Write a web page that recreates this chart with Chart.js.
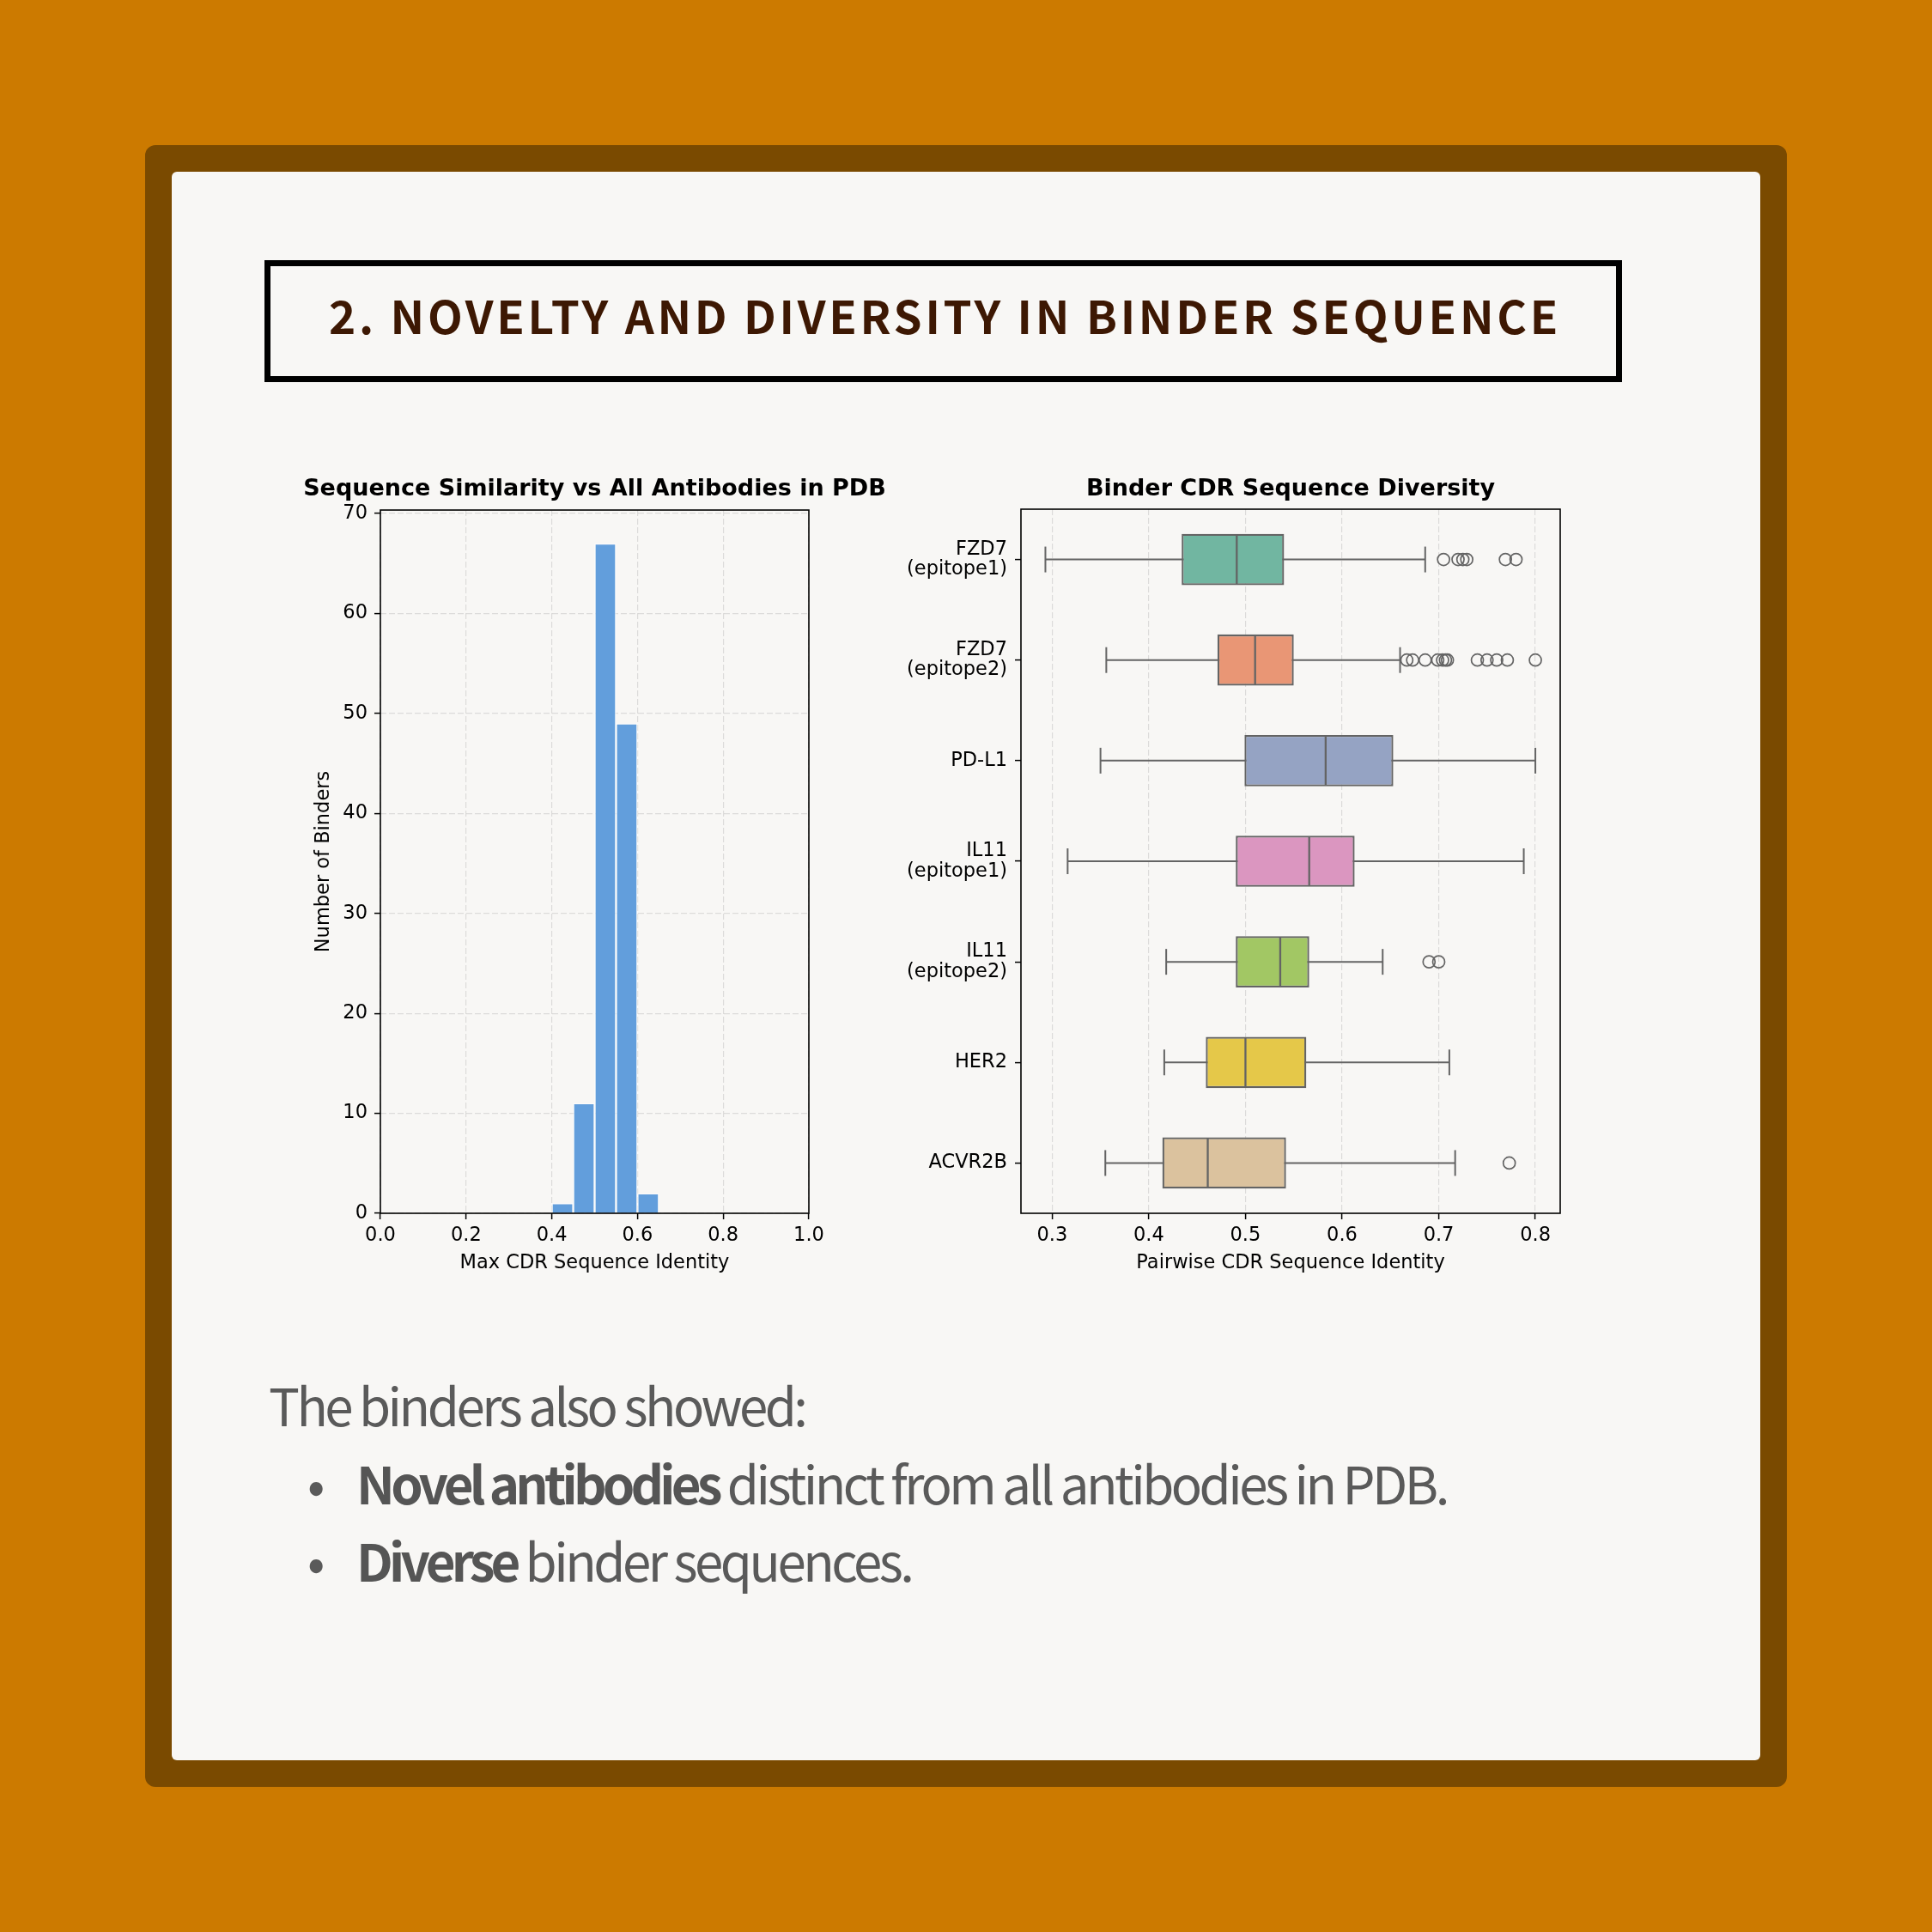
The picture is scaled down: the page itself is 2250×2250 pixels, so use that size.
<!DOCTYPE html>
<html>
<head>
<meta charset="utf-8">
<script src="https://cdn.jsdelivr.net/npm/chart.js@4.4.1/dist/chart.umd.min.js"></script>
<style>
html,body{margin:0;padding:0;background:#cc7a00;}
body{width:2250px;height:2250px;position:relative;overflow:hidden;}
#frame{position:absolute;left:169px;top:169px;width:1912px;height:1912px;background:#7a4a00;border-radius:12px;}
#panel{position:absolute;left:200px;top:200px;width:1850px;height:1850px;background:#f8f7f5;border-radius:6px;}
#titlebox{position:absolute;left:308px;top:303px;width:1581px;height:142px;box-sizing:border-box;border:7px solid #000;}
#title{position:absolute;left:310px;top:340px;width:1581px;text-align:center;font-family:"Noto Sans CJK KR","Noto Sans",sans-serif;font-weight:700;font-size:53px;line-height:1;letter-spacing:3.7px;color:#3d1803;white-space:nowrap;}
.wrap{position:absolute;}
.txt{position:absolute;font-family:"Noto Sans CJK KR","Noto Sans",sans-serif;font-size:60px;line-height:1;letter-spacing:-3.5px;color:#5a5a5a;white-space:nowrap;}
.txt b{font-weight:700;color:#555555;letter-spacing:-4.8px;}
</style>
</head>
<body>
<div id="frame"></div>
<div id="panel"></div>
<div id="titlebox"></div>
<div id="title">2. NOVELTY AND DIVERSITY IN BINDER SEQUENCE</div>

<div class="wrap" style="left:340px;top:540px;width:705px;height:960px;"><canvas id="hist"></canvas></div>
<div class="wrap" style="left:1040px;top:540px;width:820px;height:960px;"><canvas id="box"></canvas></div>

<div class="txt" style="left:313px;top:1605px;">The binders also showed:</div>
<div class="txt" style="left:358px;top:1696px;">•</div>
<div class="txt" style="left:415px;top:1696px;"><b>Novel antibodies</b> distinct from all antibodies in PDB.</div>
<div class="txt" style="left:358px;top:1786px;">•</div>
<div class="txt" style="left:415px;top:1786px;"><b>Diverse</b> binder sequences.</div>

<script>
// ---------- Data ----------
const histBinCenters = [0.425, 0.475, 0.525, 0.575, 0.625];
const histCounts = [1, 11, 67, 49, 2];
const histXTicks = [0.0, 0.2, 0.4, 0.6, 0.8, 1.0];

const boxCategories = ["FZD7\n(epitope1)", "FZD7\n(epitope2)", "PD-L1", "IL11\n(epitope1)", "IL11\n(epitope2)", "HER2", "ACVR2B"];
const whiskerLow  = [0.293, 0.356, 0.350, 0.316, 0.418, 0.416, 0.355];
const q1          = [0.434, 0.471, 0.499, 0.490, 0.490, 0.459, 0.414];
const median      = [0.491, 0.510, 0.583, 0.566, 0.536, 0.500, 0.461];
const q3          = [0.540, 0.550, 0.653, 0.613, 0.566, 0.563, 0.542];
const whiskerHigh = [0.686, 0.660, 0.800, 0.788, 0.642, 0.711, 0.717];
const outliers = [
  [0.705, 0.720, 0.725, 0.729, 0.769, 0.780],
  [0.667, 0.673, 0.686, 0.699, 0.704, 0.707, 0.709, 0.740, 0.750, 0.760, 0.771, 0.800],
  [],
  [],
  [0.690, 0.700],
  [],
  [0.773]
];
const boxColors = ['#71b6a1', '#e99675', '#95a3c3', '#db96c0', '#a2c764', '#e5c849', '#dbc29e'];

// ---------- Styles ----------
const FONT = "'DejaVu Sans', sans-serif";
const GRID = 'rgba(0,0,0,0.11)';
const EDGE = '#646464';
const TICK_SIZE = 22.5;
const LABEL_SIZE = 22.5;
const TITLE_SIZE = 27;

const framePlugin = {
  id: 'frame',
  afterDraw(chart) {
    const {ctx, chartArea: a} = chart;
    ctx.save();
    ctx.strokeStyle = '#000';
    ctx.lineWidth = 1.6;
    ctx.strokeRect(a.left, a.top, a.right - a.left, a.bottom - a.top);
    ctx.restore();
  }
};

Chart.defaults.font.family = FONT;
Chart.defaults.color = '#000';

function gridOpts(extra) {
  return Object.assign({color: GRID, lineWidth: 1.2, tickColor: '#000', tickWidth: 1.5, tickLength: 7,
                        tickBorderDash: [], borderDash: [7, 3], offset: false}, extra || {});
}
const borderOpts = {display: false, dash: [7, 3]};

// ---------- Histogram ----------
new Chart(document.getElementById('hist'), {
  type: 'bar',
  data: {
    datasets: [{
      data: histBinCenters.map((x, i) => ({x: x, y: histCounts[i]})),
      backgroundColor: '#629edc',
      borderColor: 'rgba(255,255,255,0.55)',
      borderWidth: 1.5,
      barPercentage: 1,
      categoryPercentage: 1
    }]
  },
  options: {
    responsive: true,
    maintainAspectRatio: false,
    animation: false,
    layout: {padding: 0},
    plugins: {
      legend: {display: false},
      tooltip: {enabled: false},
      title: {
        display: true, fullSize: true,
        text: 'Sequence Similarity vs All Antibodies in PDB',
        font: {family: FONT, size: TITLE_SIZE, weight: 'bold'},
        color: '#000',
        padding: {top: 13.8, bottom: 7.8}
      }
    },
    scales: {
      x: {
        type: 'linear', min: 0, max: 1, offset: false,
        grid: gridOpts(), border: borderOpts,
        afterFit: s => { s.height = 87; },
        ticks: {stepSize: 0.2, includeBounds: false, padding: 6, font: {size: TICK_SIZE}, color: '#000',
                callback: v => histXTicks.some(t => Math.abs(t - v) < 1e-9) ? v.toFixed(1) : ''},
        title: {display: true, text: 'Max CDR Sequence Identity', font: {size: LABEL_SIZE}, color: '#000', padding: {top: 0, bottom: 15}}
      },
      y: {
        type: 'linear', min: 0, max: 70.35,
        grid: gridOpts(), border: borderOpts,
        afterFit: s => { s.width = 103; },
        ticks: {stepSize: 10, includeBounds: false, padding: 8, font: {size: TICK_SIZE}, color: '#000'},
        title: {display: true, text: 'Number of Binders', font: {size: LABEL_SIZE}, color: '#000', padding: {top: 23.5, bottom: 0}}
      },
      yRight: {
        type: 'linear', position: 'right', display: true,
        grid: {display: false}, border: {display: false}, ticks: {display: false},
        afterFit: s => { s.width = 103; }
      }
    }
  },
  plugins: [framePlugin]
});

// ---------- Box plot ----------
const whiskerSets = boxCategories.map((c, i) => ({
  type: 'line',
  data: [{x: whiskerLow[i], y: c}, {x: whiskerHigh[i], y: c}],
  borderColor: EDGE, borderWidth: 2,
  pointStyle: 'line', pointRotation: 90, pointRadius: 15, pointHoverRadius: 15,
  pointBorderColor: EDGE, pointBorderWidth: 2, pointBackgroundColor: EDGE,
  fill: false, order: 3
}));
const outlierPoints = [];
boxCategories.forEach((c, i) => outliers[i].forEach(v => outlierPoints.push({x: v, y: c})));

new Chart(document.getElementById('box'), {
  type: 'bar',
  data: {
    labels: boxCategories,
    datasets: [
      {
        type: 'scatter',
        data: outlierPoints,
        pointStyle: 'circle', pointRadius: 7, pointHoverRadius: 7,
        backgroundColor: 'rgba(0,0,0,0)', borderColor: EDGE, borderWidth: 1.7,
        order: 0
      },
      {
        type: 'scatter',
        data: median.map((v, i) => ({x: v, y: boxCategories[i]})),
        pointStyle: 'line', pointRotation: 90, pointRadius: 29, pointHoverRadius: 29,
        backgroundColor: EDGE, borderColor: EDGE, borderWidth: 2.3,
        order: 0
      },
      {
        indexAxis: 'y',
        data: q1.map((v, i) => [v, q3[i]]),
        backgroundColor: boxColors, borderColor: EDGE,
        borderWidth: 2.3,
        borderSkipped: false, grouped: false,
        categoryPercentage: 1, barPercentage: 0.51, order: 1
      },
      ...whiskerSets
    ]
  },
  options: {
    indexAxis: 'y',
    responsive: true,
    maintainAspectRatio: false,
    animation: false,
    layout: {padding: {left: 0, right: 43, top: 0, bottom: 0}},
    plugins: {
      legend: {display: false},
      tooltip: {enabled: false},
      title: {
        display: true, fullSize: false,
        text: 'Binder CDR Sequence Diversity',
        font: {family: FONT, size: TITLE_SIZE, weight: 'bold'},
        color: '#000',
        padding: {top: 13.8, bottom: 6.8}
      }
    },
    scales: {
      x: {
        type: 'linear', min: 0.2677, max: 0.8257, offset: false, beginAtZero: false,
        grid: gridOpts(), border: borderOpts,
        afterFit: s => { s.height = 87; },
        ticks: {stepSize: 0.1, includeBounds: false, padding: 6, font: {size: TICK_SIZE}, color: '#000',
                callback: v => v.toFixed(1)},
        title: {display: true, text: 'Pairwise CDR Sequence Identity', font: {size: LABEL_SIZE}, color: '#000', padding: {top: 0, bottom: 15}}
      },
      y: {
        type: 'category', offset: true,
        grid: gridOpts({drawOnChartArea: false}), border: borderOpts,
        afterFit: s => { s.width = 149; },
        ticks: {
          padding: 9, font: {size: TICK_SIZE, lineHeight: 1.04}, color: '#000',
          callback: function(v) { return this.getLabelForValue(v).split('\n'); }
        }
      }
    }
  },
  plugins: [framePlugin]
});
</script>
</body>
</html>
